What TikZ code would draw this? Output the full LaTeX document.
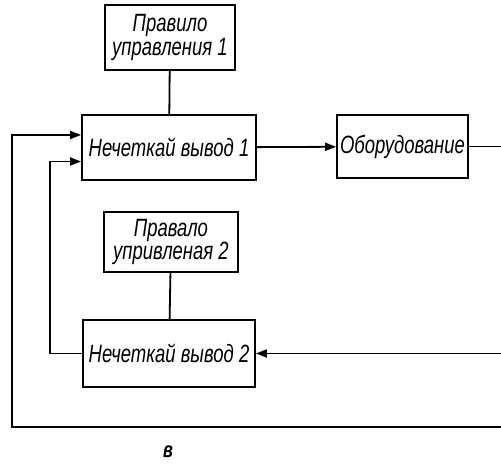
\documentclass[tikz,border=0pt]{standalone}
\usepackage{fontspec}
\newfontfamily\drawfont[FakeStretch=0.74]{Liberation Sans}
\usetikzlibrary{arrows.meta,positioning}

\begin{document}
\begin{tikzpicture}[
  x=1pt, y=-1pt,
  >={Triangle[length=11pt,width=8pt]},
  box/.style={draw, line width=1.8pt, align=center, font=\drawfont\itshape\fontsize{25}{22}\selectfont, inner sep=0pt},
  arrow/.style={->, line width=1.8pt},
  link/.style={line width=1.8pt}
]
\useasboundingbox (0,0) rectangle (501,470);

\node[box, minimum width=130pt, minimum height=65pt] (rule1) at (170,37.5) {Правило\\управления 1};
\node[box, minimum width=174pt, minimum height=65pt] (inf1) at (169,147.5) {Нечеткай вывод 1};
\node[box, minimum width=131pt, minimum height=63pt] (equip) at (402.5,146.5) {Оборудование};
\node[box, minimum width=134pt, minimum height=60pt] (rule2) at (171,242) {Правало\\упривленая 2};
\node[box, minimum width=172pt, minimum height=67pt] (inf2) at (169,353.5) {Нечеткай вывод 2};
\node[font=\drawfont\itshape\bfseries\fontsize{22}{22}\selectfont] (cap) at (168,452) {в};

\coordinate (outR) at (501,146.5);
\coordinate (inR) at (501,353.5);
\coordinate (botR) at (501,427);
\coordinate (botL) at (12,427);
\coordinate (midL) at (50,353.5);

\draw[link] (rule1) -- (inf1);
\draw[link] (rule2) -- (inf2);
\draw[arrow] (inf1) -- (equip);
\draw[link] (equip) -- (outR);
\draw[arrow] (inR) -- (inf2);
\draw[arrow] (inf2.west) -- (midL) |- ([yshift=-14pt]inf1.west);
\draw[arrow] (botR) -- (botL) |- ([yshift=12.5pt]inf1.west);
\end{tikzpicture}
\end{document}
